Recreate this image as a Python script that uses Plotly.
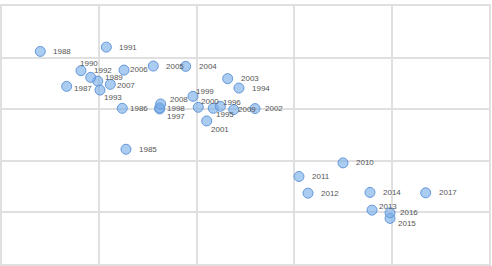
import plotly.graph_objects as go

years = [1985, 1986, 1987, 1988, 1989, 1990, 1991, 1992, 1993, 1994,
         1995, 1996, 1997, 1998, 1999, 2000, 2001, 2002, 2003, 2004,
         2005, 2006, 2007, 2008, 2009, 2010, 2011, 2012, 2013, 2014,
         2015, 2016, 2017]
x_vals = [1.273, 1.235, 0.664, 0.393, 0.983, 0.811, 1.071, 0.911, 1.006, 2.433,
          2.169, 2.241, 1.619, 1.619, 1.961, 2.015, 2.102, 2.598, 2.317, 1.886,
          1.553, 1.253, 1.112, 1.629, 2.379, 3.501, 3.049, 3.142, 3.799, 3.778,
          3.984, 3.984, 4.350]
y_vals = [2.224, 3.017, 3.443, 4.120, 3.545, 3.747, 4.203, 3.617, 3.371, 3.410,
          3.017, 3.056, 3.004, 3.027, 3.250, 3.037, 2.772, 3.012, 3.592, 3.830,
          3.836, 3.758, 3.482, 3.101, 2.992, 1.959, 1.696, 1.373, 1.044, 1.387,
          0.884, 0.992, 1.379]

# label offsets in pixels (dx right, dy down) - styling only
label_dx = [13, 8, 7, 13, 7, -1, 13, 3, 4, 13,
            3, 3, 7, 7, 3, 3, 4, 10, 13, 13,
            13, 6, 7, 9, 4, 13, 13, 13, 7, 13,
            8, 10, 13]
label_dy = [0, 0, 2, 0, -4, -7, 0, -7, 7, 0,
            6, -4, 8, 1, -5, -6, 9, 0, 0, 0,
            0, -1, 1, -4, 0, 0, 0, 0, -4, 0,
            5, 0, 0]

fig = go.Figure()
fig.add_trace(go.Scatter(
    x=x_vals, y=y_vals, mode="markers",
    marker=dict(size=10, color="rgba(120,172,232,0.62)",
                line=dict(color="rgb(100,152,218)", width=1)),
    hoverinfo="skip", showlegend=False,
))

annotations = []
for yr, xv, yv, dx, dy in zip(years, x_vals, y_vals, label_dx, label_dy):
    annotations.append(dict(
        x=xv, y=yv, text=str(yr), showarrow=False,
        xanchor="left", yanchor="middle",
        xshift=dx - 2, yshift=-dy,
        font=dict(family="Liberation Sans, Arial", size=8, color="#555555"),
    ))

axis_style = dict(range=[0, 5], dtick=1, tick0=0, showticklabels=False,
                  showgrid=True, gridcolor="#e0e0e0", gridwidth=1.5,
                  zeroline=False, showline=True, linecolor="#e0e0e0",
                  linewidth=1.5, mirror=True, ticks="")

fig.update_layout(
    width=492, height=266,
    margin=dict(l=2, r=3, t=6, b=2),
    paper_bgcolor="white", plot_bgcolor="white",
    annotations=annotations,
    xaxis=axis_style,
    yaxis=axis_style,
)

fig.write_html("out.html")
